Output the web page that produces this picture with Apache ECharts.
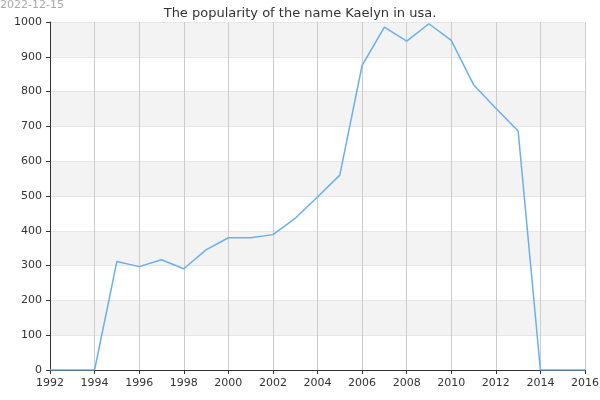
<!DOCTYPE html>
<html lang="en">
<head>
  <meta charset="UTF-8">
  <title>Kaelyn</title>
  <script src="https://cdn.jsdelivr.net/npm/echarts@6/dist/echarts.min.js"></script>
</head>
<body style="margin:0">
  <div id="chart" style="width:600px;height:400px;"></div>
  <script>
    const years = [1992, 1993, 1994, 1995, 1996, 1997, 1998, 1999, 2000, 2001, 2002, 2003, 2004,
      2005, 2006, 2007, 2008, 2009, 2010, 2011, 2012, 2013, 2014, 2015, 2016];
    const counts = [0, 0, 0, 312, 297, 317, 291, 345, 380, 380, 389, 436, 497,
      560, 875, 985, 945, 995, 947, 820, 752, 687, 0, 0, 0];

    const chart = echarts.init(document.getElementById('chart'));
    const wmColor = 'rgba(190,190,240,0.55)';
    chart.setOption({
      animation: false,
      title: {
        text: 'The popularity of the name Kaelyn in usa.',
        left: 'center', top: 2,
        textStyle: { fontSize: 13, fontWeight: 'normal', color: '#333', fontFamily: 'DejaVu Sans' }
      },
      graphic: [
        { type: 'text', left: 0, top: 0, style: { text: '2022-12-15', fill: '#aaa', fontSize: 11, fontFamily: 'DejaVu Sans' } },
        { type: 'text', left: 62, top: 40, style: { text: 'Names of the World © 2022', fill: wmColor, fontSize: 11 } },
        { type: 'text', left: 290, top: 126, style: { text: 'Names of the World © 2022', fill: wmColor, fontSize: 11 } },
        { type: 'text', left: 120, top: 200, style: { text: 'Names of the World © 2022', fill: wmColor, fontSize: 11 } },
        { type: 'text', left: 358, top: 333, style: { text: 'NANO_DOMAIN', fill: '#22cc22', stroke: '#114411', lineWidth: 2, fontSize: 11, fontFamily: 'DejaVu Sans' } }
      ],
      grid: { left: 50, right: 15, top: 22, bottom: 30, outerBoundsMode: 'none' },
      xAxis: {
        type: 'value', min: 1992, max: 2016, interval: 2,
        axisLine: { lineStyle: { color: '#333' } },
        axisTick: { show: true, length: 4, lineStyle: { color: '#333' } },
        axisLabel: { color: '#333', fontSize: 11, fontFamily: 'DejaVu Sans', formatter: v => String(v) },
        splitLine: { show: true, lineStyle: { color: '#ccc' } }
      },
      yAxis: {
        type: 'value', min: 0, max: 1000, interval: 100,
        axisLine: { show: true, lineStyle: { color: '#333' } },
        axisTick: { show: true, length: 4, lineStyle: { color: '#333' } },
        axisLabel: { color: '#333', fontSize: 11, fontFamily: 'DejaVu Sans', formatter: v => String(v) },
        splitLine: { show: true, lineStyle: { color: '#e6e6e6' } },
        splitArea: { show: true, areaStyle: { color: ['#fff', '#f3f3f3'] } }
      },
      series: [{
        type: 'line',
        data: years.map((y, i) => [y, counts[i]]),
        showSymbol: false,
        lineStyle: { color: '#6aaff0', width: 1.5 },
        itemStyle: { color: '#6aaff0' }
      }]
    });
  </script>
</body>
</html>
